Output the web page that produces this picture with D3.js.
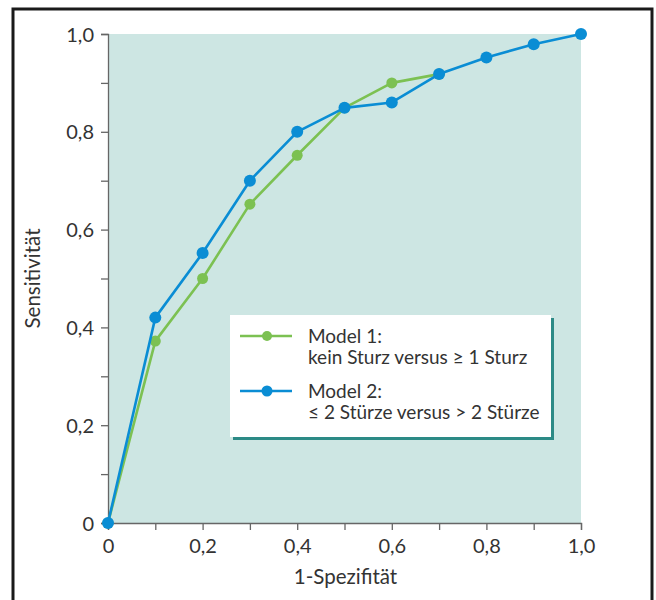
<!DOCTYPE html>
<meta charset="utf-8">
<style>
  body { margin: 0; background: #fff; }
  svg text { font-family: Lato, "Noto Sans", sans-serif; fill: #333; }
</style>
<body>
<script src="https://d3js.org/d3.v7.min.js"></script>
<script>

// 1-Spezifität values
var xValues = [0, 0.1, 0.2, 0.3, 0.4, 0.5, 0.6, 0.7, 0.8, 0.9, 1.0];
// Sensitivität, model 1 (green) and model 2 (blue)
var model1 = [0, 0.372, 0.50, 0.652, 0.752, 0.849, 0.90, 0.918];
var model2 = [0, 0.42, 0.552, 0.70, 0.80, 0.849, 0.86, 0.918, 0.952, 0.979, 1.0];
var xTicks = [0, 0.2, 0.4, 0.6, 0.8, 1.0];
var xMinorTicks = [0.1, 0.3, 0.5, 0.7, 0.9];
var yTicks = [0, 0.2, 0.4, 0.6, 0.8, 1.0];
var yMinorTicks = [0.1, 0.3, 0.5, 0.7, 0.9];
var legendLines = [
  ["Model 1:", "kein Sturz versus \u2265 1 Sturz"],
  ["Model 2:", "\u2264 2 St\u00fcrze versus > 2 St\u00fcrze"]
];

var width = 656, height = 600;
var green = "#7cc152", blue = "#0a8dd4";

var svg = d3.select("body").append("svg")
    .attr("width", width)
    .attr("height", height);

// outer frame
svg.append("rect")
    .attr("x", 13).attr("y", 9)
    .attr("width", 639).attr("height", 600)
    .attr("fill", "none")
    .attr("stroke", "#1a1a1a")
    .attr("stroke-width", 3);

var x = d3.scaleLinear().domain([0, 1]).range([108, 581]);
var y = d3.scaleLinear().domain([0, 1]).range([523, 34]);

// plot background
svg.append("rect")
    .attr("x", x(0)).attr("y", y(1))
    .attr("width", x(1) - x(0)).attr("height", y(0) - y(1))
    .attr("fill", "#cde6e3");

var fmt = function(d){ return d === 0 ? "0" : d3.format(".1f")(d).replace(".", ","); };

var xAxis = svg.append("g")
    .attr("transform", "translate(0," + y(0) + ")")
    .call(d3.axisBottom(x).tickValues(xTicks.concat(xMinorTicks)).tickSize(7).tickPadding(5)
      .tickFormat(function(d){ return xTicks.indexOf(d) >= 0 ? fmt(d) : ""; }));

var yAxis = svg.append("g")
    .attr("transform", "translate(" + x(0) + ",0)")
    .call(d3.axisLeft(y).tickValues(yTicks.concat(yMinorTicks)).tickSize(7).tickPadding(7)
      .tickFormat(function(d){ return yTicks.indexOf(d) >= 0 ? fmt(d) : ""; }));

[xAxis, yAxis].forEach(function(a){
  a.select(".domain").attr("stroke", "#666").attr("stroke-width", 1.3);
  a.selectAll(".tick line").attr("stroke", "#666").attr("stroke-width", 1.3);
  a.selectAll("text").style("font-size", "20px").attr("fill", "#333");
});
xAxis.selectAll("text").attr("dy", "0.9em");
yAxis.selectAll("text").attr("dy", "0.35em");

svg.append("text")
    .attr("x", (x(0) + x(1)) / 2 + 1).attr("y", 584)
    .attr("text-anchor", "middle")
    .style("font-size", "20.5px")
    .text("1-Spezifit\u00e4t");

svg.append("text")
    .attr("transform", "translate(40," + (y(0.5)) + ") rotate(-90)")
    .attr("text-anchor", "middle")
    .style("font-size", "20.5px")
    .text("Sensitivit\u00e4t");

var line = d3.line()
    .x(function(d, i){ return x(xValues[i]); })
    .y(function(d){ return y(d); });

function drawSeries(vals, color, r) {
  svg.append("path")
      .datum(vals)
      .attr("d", line)
      .attr("fill", "none")
      .attr("stroke", color)
      .attr("stroke-width", 2.6)
      .attr("stroke-linejoin", "round");
  svg.append("g").selectAll("circle")
      .data(vals).enter().append("circle")
      .attr("cx", function(d, i){ return x(xValues[i]); })
      .attr("cy", function(d){ return y(d); })
      .attr("r", r)
      .attr("fill", color);
}
drawSeries(model1, green, 5.5);
drawSeries(model2, blue, 6);

// legend
var lg = svg.append("g").attr("transform", "translate(230,315)");
lg.append("rect")
    .attr("x", 3).attr("y", 3).attr("width", 321).attr("height", 122)
    .attr("fill", "#2c8a86");
lg.append("rect")
    .attr("width", 321).attr("height", 122)
    .attr("fill", "#fff");

var item = lg.selectAll("g.item")
    .data(legendLines).enter().append("g")
    .attr("class", "item")
    .attr("transform", function(d, i){ return "translate(0," + (i * 55) + ")"; });

item.append("line")
    .attr("x1", 10).attr("x2", 62).attr("y1", 21).attr("y2", 21)
    .attr("stroke", function(d, i){ return i ? blue : green; })
    .attr("stroke-width", 2.6);
item.append("circle")
    .attr("cx", 37).attr("cy", 21).attr("r", function(d, i){ return i ? 5.5 : 5; })
    .attr("fill", function(d, i){ return i ? blue : green; });
item.append("text")
    .attr("x", 78).attr("y", 28)
    .style("font-size", "19px")
    .text(function(d){ return d[0]; });
item.append("text")
    .attr("x", 78).attr("y", 49)
    .style("font-size", "19px")
    .text(function(d){ return d[1]; });

</script>
</body>
